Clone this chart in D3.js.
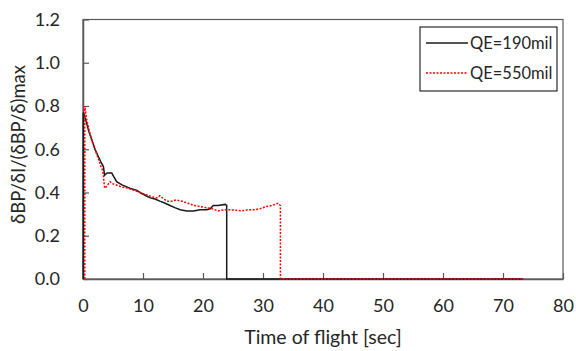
<!DOCTYPE html>
<html>
<head>
<meta charset="utf-8">
<script src="https://cdn.jsdelivr.net/npm/d3@7"></script>
<style>
  body { margin: 0; background: #fff; }
  svg { display: block; }
</style>
</head>
<body>
<div id="chart"></div>
<script>
// QE=190mil
var t190 = [0.05, 0.05, 0.5, 1, 1.5, 2, 2.5, 3, 3.4, 3.6, 4, 4.8, 5.2, 5.6, 6.5, 7.8, 9, 9.5, 10.5, 11.2, 12, 12.8, 13.7, 14.5, 15.3, 16.2, 17.3, 18.4, 19.5, 20.6, 21.2, 21.7, 22.5, 23.7, 23.95, 23.95, 73.3];
var v190 = [0, 0.77, 0.73, 0.68, 0.64, 0.6, 0.57, 0.54, 0.52, 0.48, 0.49, 0.49, 0.47, 0.45, 0.435, 0.42, 0.41, 0.40, 0.385, 0.375, 0.37, 0.36, 0.35, 0.34, 0.33, 0.32, 0.315, 0.315, 0.32, 0.32, 0.325, 0.34, 0.34, 0.345, 0.34, 0, 0];

// QE=550mil
var t550 = [0.3, 0.3, 0.6, 1, 1.5, 2, 2.5, 3, 3.3, 3.6, 4, 4.5, 5, 6, 6.5, 7.5, 8.5, 9.5, 10.5, 11.5, 12.3, 12.8, 13.5, 14, 14.8, 15.5, 16.5, 17.5, 18.5, 19.5, 20.5, 21.5, 22.5, 23.5, 24.5, 25.5, 26.5, 27.5, 28.5, 29.5, 30.5, 31.5, 32.5, 32.9, 32.9, 73.5];
var v550 = [0, 0.8, 0.74, 0.69, 0.64, 0.6, 0.56, 0.52, 0.5, 0.42, 0.43, 0.45, 0.44, 0.43, 0.425, 0.42, 0.41, 0.4, 0.39, 0.38, 0.375, 0.385, 0.37, 0.36, 0.36, 0.365, 0.36, 0.35, 0.34, 0.335, 0.33, 0.325, 0.315, 0.32, 0.32, 0.318, 0.315, 0.32, 0.32, 0.325, 0.335, 0.34, 0.35, 0.34, 0, 0];

var xTicks = [0, 10, 20, 30, 40, 50, 60, 70, 80];
var yTicks = [0, 0.2, 0.4, 0.6, 0.8, 1.0, 1.2];
var seriesNames = ["QE=190mil", "QE=550mil"];

var width = 576, height = 351;
var margin = {top: 19.5, right: 13, bottom: 72, left: 83};
var w = width - margin.left - margin.right,
    h = height - margin.top - margin.bottom;

var font = "Lato, 'Open Sans', sans-serif";
var axisColor = "#595959";

var svg = d3.select("#chart")
    .append("svg")
    .attr("width", width)
    .attr("height", height);

var plot = svg.append("g")
    .attr("transform", "translate(" + margin.left + "," + margin.top + ")");

var x = d3.scaleLinear().domain([0, 80]).range([0, w]);
var y = d3.scaleLinear().domain([0, 1.2]).range([h, 0]);

// frame
plot.append("rect")
    .attr("x", 0).attr("y", 0)
    .attr("width", w).attr("height", h)
    .attr("fill", "none")
    .attr("stroke", axisColor)
    .attr("stroke-width", 1.2);

var line = d3.line()
    .x(function(d) { return x(d[0]); })
    .y(function(d) { return y(d[1]); });

var data190 = t190.map(function(t, i) { return [t, v190[i]]; });
var data550 = t550.map(function(t, i) { return [t, v550[i]]; });

// x axis, ticks pointing inward
var xAxis = plot.append("g")
    .attr("transform", "translate(0," + h + ")")
    .call(d3.axisBottom(x).tickValues(xTicks).tickSizeInner(-6).tickSizeOuter(0).tickPadding(20).tickFormat(d3.format("d")));
xAxis.select(".domain").attr("stroke", axisColor).attr("stroke-width", 1.5);
xAxis.selectAll(".tick line").attr("stroke", axisColor).attr("stroke-width", 1.2);
xAxis.selectAll(".tick text").attr("font-family", font).style("font-size", "18px").attr("fill", "#262626");

// y axis
var yAxis = plot.append("g")
    .call(d3.axisLeft(y).tickValues(yTicks).tickSizeInner(-6).tickSizeOuter(0).tickPadding(23).tickFormat(d3.format(".1f")));
yAxis.select(".domain").attr("stroke", axisColor).attr("stroke-width", 1.5);
yAxis.selectAll(".tick line").attr("stroke", axisColor).attr("stroke-width", 1.2);
yAxis.selectAll(".tick text").attr("font-family", font).style("font-size", "18px").attr("fill", "#262626");

plot.append("path")
    .datum(data190)
    .attr("d", line)
    .attr("fill", "none")
    .attr("stroke", "#1a1a1a")
    .attr("stroke-width", 1.5);

plot.append("path")
    .datum(data550)
    .attr("d", line)
    .attr("fill", "none")
    .attr("stroke", "#ff0000")
    .attr("stroke-width", 1.5)
    .attr("stroke-dasharray", "2,1.5");

// axis titles
svg.append("text")
    .attr("x", margin.left + w / 2)
    .attr("y", 344)
    .attr("text-anchor", "middle")
    .attr("font-family", font)
    .style("font-size", "19.5px")
    .attr("fill", "#262626")
    .text("Time of flight [sec]");

svg.append("text")
    .attr("transform", "translate(25," + (margin.top + 125) + ") rotate(-90)")
    .attr("text-anchor", "middle")
    .attr("font-family", font)
    .style("font-size", "18.5px")
    .attr("fill", "#262626")
    .text("δBP/δI/(δBP/δ)max");

// legend
var legend = svg.append("g");
legend.append("rect")
    .attr("x", 420).attr("y", 27)
    .attr("width", 137).attr("height", 64)
    .attr("fill", "#fff")
    .attr("stroke", "#000")
    .attr("stroke-width", 1);

var legendStyles = [
    {stroke: "#1a1a1a", dash: null},
    {stroke: "#ff0000", dash: "2,1.5"}
];

legend.selectAll("line.leg")
    .data(seriesNames)
    .enter()
    .append("line")
    .attr("class", "leg")
    .attr("x1", 426).attr("x2", 468)
    .attr("y1", function(d, i) { return 43 + i * 30; })
    .attr("y2", function(d, i) { return 43 + i * 30; })
    .attr("stroke", function(d, i) { return legendStyles[i].stroke; })
    .attr("stroke-width", 1.3)
    .attr("stroke-dasharray", function(d, i) { return legendStyles[i].dash; });

legend.selectAll("text.leg")
    .data(seriesNames)
    .enter()
    .append("text")
    .attr("class", "leg")
    .attr("x", 470)
    .attr("y", function(d, i) { return 43 + i * 30; })
    .attr("dy", "0.35em")
    .attr("font-family", font)
    .style("font-size", "16.5px")
    .attr("fill", "#262626")
    .text(function(d) { return d; });
</script>
</body>
</html>
